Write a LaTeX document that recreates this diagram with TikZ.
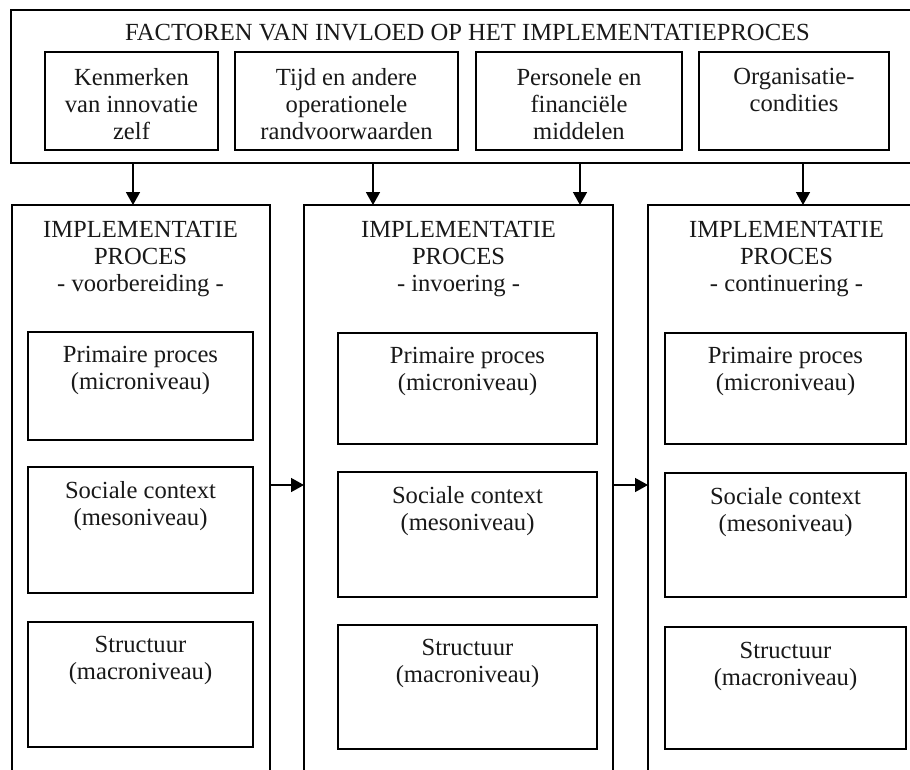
\documentclass[tikz,border=0pt]{standalone}
\usepackage{fontspec}
\setmainfont{Liberation Serif}
\usetikzlibrary{arrows.meta}
\newcommand{\mybox}[6]{\node[#1, minimum width={#4pt-#2pt}, minimum height={#5pt-#3pt}] (#6) at ({(#2+#4)/2},{(#3+#5)/2}) {};}
\begin{document}
\begin{tikzpicture}[x=1pt,y=-1pt,
  outerbox/.style={draw=black, line width=2pt, inner sep=0pt, outer sep=0pt, rectangle},
  innerbox/.style={draw=black, line width=1.9pt, inner sep=0pt, outer sep=0pt, rectangle},
  lbl/.style={font=\fontsize{24.6}{27}\selectfont, align=center, inner sep=0pt, text=black!90},
  arr/.style={line width=1.5pt, -{Triangle[length=13pt,width=14pt]}}]
\useasboundingbox (0,0) rectangle (910,769);
\fill[white] (0,0) rectangle (910,769);
% top factors box
\mybox{outerbox}{11}{10}{922}{163}{fac}
\node[lbl, anchor=base] (title) at (467.5,40) {FACTOREN VAN INVLOED OP HET IMPLEMENTATIEPROCES};
\mybox{innerbox}{45}{52}{218}{150}{f1}
\mybox{innerbox}{235}{52}{458}{150}{f2}
\mybox{innerbox}{476}{52}{682}{150}{f3}
\mybox{innerbox}{699}{52}{889}{150}{f4}
\node[lbl, anchor=north] (t1) at (131.5,68.5) {Kenmerken\\van innovatie\\zelf};
\node[lbl, anchor=north] (t2) at (346.5,68.5) {Tijd en andere\\operationele\\randvoorwaarden};
\node[lbl, anchor=north] (t3) at (579,68.5) {Personele en\\financiële\\middelen};
\node[lbl, anchor=north] (t4) at (794,68.5) {Organisatie-\\condities};
% process boxes
\mybox{outerbox}{12}{205}{270}{800}{pA}
\mybox{outerbox}{304}{205}{613}{800}{pB}
\mybox{outerbox}{648}{205}{925}{800}{pC}
\node[lbl, anchor=north] (hA) at (140.5,221.5) {IMPLEMENTATIE\\PROCES\\- voorbereiding -};
\node[lbl, anchor=north] (hB) at (458.5,221.5) {IMPLEMENTATIE\\PROCES\\- invoering -};
\node[lbl, anchor=north] (hC) at (786.5,221.5) {IMPLEMENTATIE\\PROCES\\- continuering -};
% inner boxes
\mybox{innerbox}{28}{332}{253}{440}{a1}
\mybox{innerbox}{28}{467}{253}{593}{a2}
\mybox{innerbox}{28}{622}{253}{747}{a3}
\mybox{innerbox}{338}{333}{597}{444}{b1}
\mybox{innerbox}{338}{472}{597}{597}{b2}
\mybox{innerbox}{338}{625}{597}{749}{b3}
\mybox{innerbox}{665}{333}{906}{444}{c1}
\mybox{innerbox}{665}{473}{906}{597}{c2}
\mybox{innerbox}{665}{627}{906}{749}{c3}
\node[lbl, anchor=north] (la1) at (140.5,346.5) {Primaire proces\\(microniveau)};
\node[lbl, anchor=north] (la2) at (140.5,481.5) {Sociale context\\(mesoniveau)};
\node[lbl, anchor=north] (la3) at (140.5,636.5) {Structuur\\(macroniveau)};
\node[lbl, anchor=north] (lb1) at (467.5,347.5) {Primaire proces\\(microniveau)};
\node[lbl, anchor=north] (lb2) at (467.5,486.5) {Sociale context\\(mesoniveau)};
\node[lbl, anchor=north] (lb3) at (467.5,639.5) {Structuur\\(macroniveau)};
\node[lbl, anchor=north] (lc1) at (785.5,347.5) {Primaire proces\\(microniveau)};
\node[lbl, anchor=north] (lc2) at (785.5,487.5) {Sociale context\\(mesoniveau)};
\node[lbl, anchor=north] (lc3) at (785.5,641.5) {Structuur\\(macroniveau)};
% connectors
\coordinate (x1) at (133,0);
\coordinate (x2) at (373,0);
\coordinate (x3) at (580,0);
\coordinate (x4) at (803,0);
\coordinate (hy) at (0,485);
\draw[arr] (fac.south -| x1) -- (pA.north -| x1);
\draw[arr] (fac.south -| x2) -- (pB.north -| x2);
\draw[arr] (fac.south -| x3) -- (pB.north -| x3);
\draw[arr] (fac.south -| x4) -- (pC.north -| x4);
\draw[arr] (pA.east |- hy) -- (pB.west |- hy);
\draw[arr] (pB.east |- hy) -- (pC.west |- hy);
\end{tikzpicture}
\end{document}
